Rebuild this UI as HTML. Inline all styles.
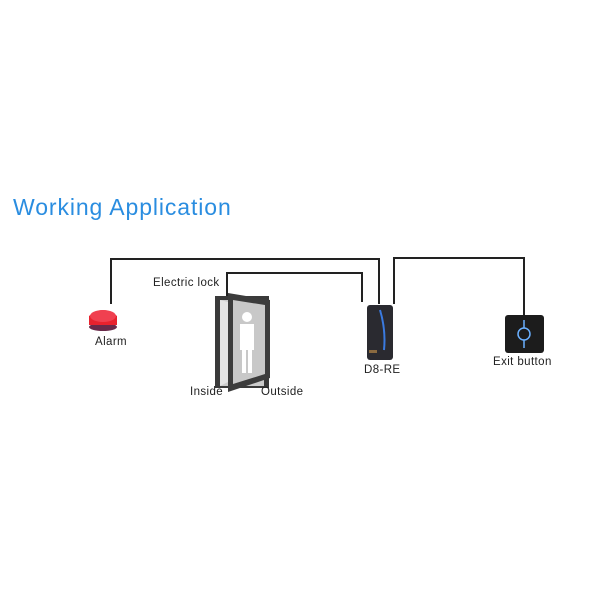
<!DOCTYPE html>
<html><head><style>
body{margin:0;width:600px;height:600px;background:#fff;position:relative;overflow:hidden;font-family:"Liberation Sans",sans-serif;}
.t{position:absolute;font-size:11.5px;letter-spacing:0.4px;color:#222;white-space:nowrap}
</style></head><body>
<div style="position:absolute;left:13px;top:194px;font-size:23px;letter-spacing:0.9px;color:#2a8de0;">Working Application</div>
<svg width="600" height="600" style="position:absolute;left:0;top:0">
<g fill="none" stroke="#222" stroke-width="2">
<polyline points="111,304 111,259 379,259 379,304"/>
<polyline points="227,296 227,273 362,273 362,302"/>
<polyline points="394,304 394,258 524,258 524,316"/>
</g>
<ellipse cx="103" cy="327" rx="14" ry="4" fill="#6a2a4a"/>
<path d="M89,325 L89,316 Q103,304 117,316 L117,325 Z" fill="#e8222e"/>
<ellipse cx="103" cy="316" rx="13" ry="6" fill="#f04050"/>
<rect x="215" y="296" width="54" height="92" fill="#3a3a3a"/>
<rect x="220" y="300" width="44" height="86" fill="#ccc"/>
<polygon points="220,300 232,303 232,380 220,386" fill="#e4e4e4"/>
<polygon points="228,293 270,300 270,378 228,392" fill="#3c3c3c"/>
<polygon points="233,300 265,305 265,374 233,384" fill="#c8c8c8"/>
<circle cx="247" cy="317" r="5" fill="#fff"/>
<rect x="240" y="324" width="14" height="26" fill="#fff"/>
<rect x="242" y="349" width="4" height="24" fill="#fff"/>
<rect x="248" y="349" width="4" height="24" fill="#fff"/>
<rect x="367" y="305" width="26" height="55" rx="3" fill="#2a2a30"/>
<path d="M380,310 Q386,330 384,350" stroke="#3a7ae0" stroke-width="2" fill="none"/>
<rect x="369" y="350" width="8" height="3" fill="#8a6a40"/>
<rect x="505" y="315" width="39" height="38" rx="3" fill="#1c1c1c"/>
<line x1="524" y1="320" x2="524" y2="348" stroke="#6ab0ff" stroke-width="1.5"/>
<circle cx="524" cy="334" r="6" fill="#1c1c1c" stroke="#6ab0ff" stroke-width="1.5"/>
</svg>
<div class="t" style="left:153px;top:277px">Electric lock</div>
<div class="t" style="left:95px;top:336px">Alarm</div>
<div class="t" style="left:190px;top:386px">Inside</div>
<div class="t" style="left:261px;top:386px">Outside</div>
<div class="t" style="left:364px;top:364px">D8-RE</div>
<div class="t" style="left:493px;top:356px">Exit button</div>
</body></html>
